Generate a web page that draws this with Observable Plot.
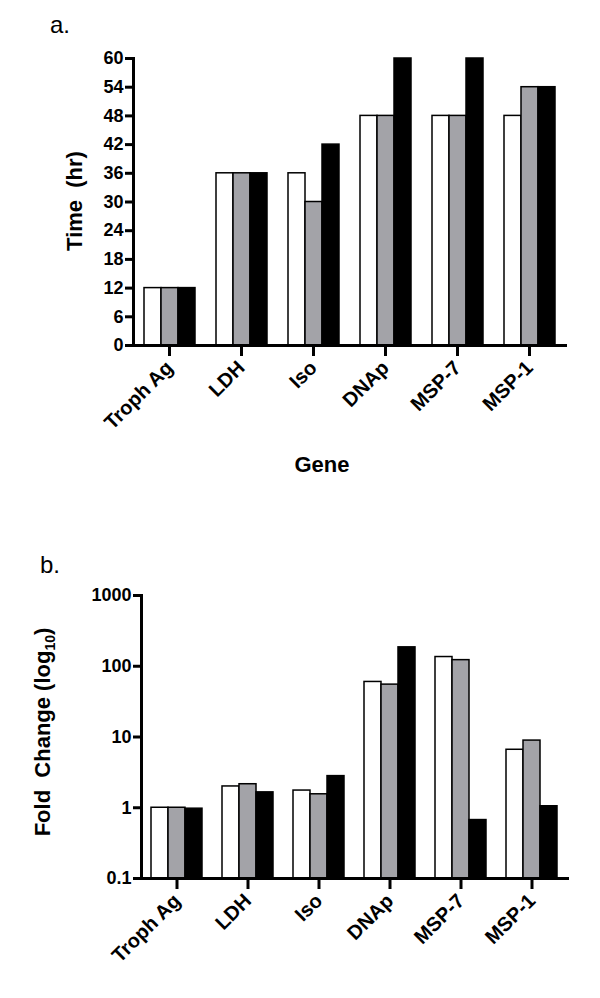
<!DOCTYPE html>
<html>
<head>
<meta charset="utf-8">
<script src="https://cdn.jsdelivr.net/npm/d3@7"></script>
<script src="https://cdn.jsdelivr.net/npm/@observablehq/plot@0.6"></script>
<style>
  html, body { margin: 0; padding: 0; background: #fff; }
  #page { position: relative; width: 600px; height: 998px; overflow: hidden; font-family: "Liberation Sans", Arial, sans-serif; color: #000; }
  .abs { position: absolute; line-height: 1; white-space: pre; }
  .panel { position: absolute; left: 0; }
  .title { font-weight: bold; font-size: 22px; }
  .letter { font-size: 24px; }
</style>
</head>
<body>
<div id="page">
  <div class="abs letter" style="left:50px; top:13px;">a.</div>
  <div class="panel" id="chartA" style="top:0px;"></div>
  <div class="abs title" style="left:75px; top:201px; transform: translate(-50%,-50%) rotate(-90deg);">Time  (hr)</div>
  <div class="abs title" style="left:322px; top:454px; transform: translateX(-50%);">Gene</div>

  <div class="abs letter" style="left:40px; top:553px;">b.</div>
  <div class="panel" id="chartB" style="top:540px;"></div>
  <div class="abs title" style="left:43px; top:732px; transform: translate(-50%,-50%) rotate(-90deg);">Fold  Change (log<sub style="font-size:14px; line-height:0;">10</sub>)</div>
</div>
<script>
// ---- data ----
const genes = ["Troph Ag", "LDH", "Iso", "DNAp", "MSP-7", "MSP-1"];
const seriesNames = ["Series 1", "Series 2", "Series 3"];
const seriesFills = ["#ffffff", "#a3a3a8", "#000000"];

// panel a: Time (hr)
const timeS1 = [12, 36, 36, 48, 48, 48];
const timeS2 = [12, 36, 30, 48, 48, 54];
const timeS3 = [12, 36, 42, 60, 60, 54];
const timeTicks = [0, 6, 12, 18, 24, 30, 36, 42, 48, 54, 60];

// panel b: Fold change (log10)
const foldS1 = [1.0, 2.0, 1.75, 60, 135, 6.6];
const foldS2 = [1.0, 2.15, 1.55, 55, 122, 8.9];
const foldS3 = [0.97, 1.65, 2.8, 185, 0.67, 1.05];
const foldTicks = [0.1, 1, 10, 100, 1000];
const foldTickLabels = ["0.1", "1", "10", "100", "1000"];

function toRows(arrays) {
  const rows = [];
  genes.forEach((g, i) => {
    arrays.forEach((arr, s) => rows.push({gene: g, series: seriesNames[s], value: arr[i]}));
  });
  return rows;
}
const timeData = toRows([timeS1, timeS2, timeS3]);
const foldData = toRows([foldS1, foldS2, foldS3]);

const commonStyle = {fontFamily: "'Liberation Sans', Arial, sans-serif", fontWeight: "bold", background: "transparent", overflow: "visible"};

const chartA = Plot.plot({
  width: 600, height: 430,
  marginLeft: 130, marginRight: 33, marginTop: 58, marginBottom: 85,
  style: commonStyle,
  fx: {domain: genes, padding: 0, label: null},
  x: {domain: seriesNames, paddingInner: 0, paddingOuter: 0.52, axis: null},
  y: {domain: [0, 60], label: null},
  color: {domain: seriesNames, range: seriesFills},
  marks: [
    Plot.barY(timeData, {fx: "gene", x: "series", y: "value", fill: "series", stroke: "#000", strokeWidth: 1.5}),
    Plot.axisY({ticks: timeTicks, tickSize: 8, tickPadding: 2, fontSize: 18, fontWeight: "bold", strokeWidth: 3, label: null}),
    Plot.axisFx({anchor: "bottom", tickSize: 11, tickPadding: 8, tickRotate: -45, fontSize: 20, fontWeight: "bold", strokeWidth: 3, label: null}),
    Plot.frame({anchor: "bottom", facet: "super", strokeWidth: 3, strokeLinecap: "square"}),
    Plot.frame({anchor: "left", facet: "super", strokeWidth: 3, strokeLinecap: "square"})
  ]
});
document.getElementById("chartA").appendChild(chartA);

const chartB = Plot.plot({
  width: 600, height: 458,
  marginLeft: 140, marginRight: 32, marginTop: 55, marginBottom: 120,
  style: commonStyle,
  fx: {domain: genes, padding: 0, label: null},
  x: {domain: seriesNames, paddingInner: 0, paddingOuter: 0.51, axis: null},
  y: {type: "log", domain: [0.1, 1000], label: null},
  color: {domain: seriesNames, range: seriesFills},
  marks: [
    Plot.barY(foldData, {fx: "gene", x: "series", y1: foldTicks[0], y2: "value", fill: "series", stroke: "#000", strokeWidth: 1.5}),
    Plot.axisY({ticks: foldTicks, tickFormat: (d) => foldTickLabels[foldTicks.indexOf(d)], tickSize: 8, tickPadding: 2, fontSize: 18, fontWeight: "bold", strokeWidth: 3, label: null}),
    Plot.axisFx({anchor: "bottom", tickSize: 11, tickPadding: 8, tickRotate: -45, fontSize: 20, fontWeight: "bold", strokeWidth: 3, label: null}),
    Plot.frame({anchor: "bottom", facet: "super", strokeWidth: 3, strokeLinecap: "square"}),
    Plot.frame({anchor: "left", facet: "super", strokeWidth: 3, strokeLinecap: "square"})
  ]
});
document.getElementById("chartB").appendChild(chartB);
</script>
</body>
</html>
